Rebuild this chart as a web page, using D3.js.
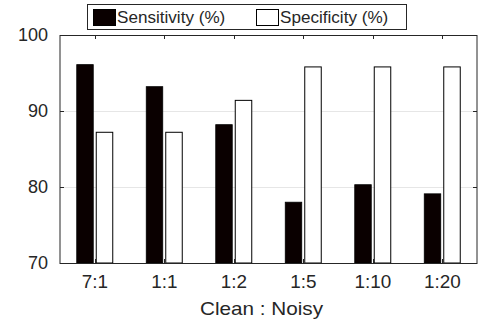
<!DOCTYPE html>
<html>
<head>
<meta charset="utf-8">
<script src="https://cdn.jsdelivr.net/npm/d3@7"></script>
<style>
  body { margin: 0; background: #fff; }
  text { font-family: "Liberation Sans", Arial, sans-serif; fill: #262626; }
</style>
</head>
<body>
<script>
// data
var ratios = ["7:1", "1:1", "1:2", "1:5", "1:10", "1:20"];
var sensitivity = [96.1, 93.2, 88.2, 78.0, 80.3, 79.1];
var specificity = [87.2, 87.2, 91.4, 95.8, 95.8, 95.8];
var yTicks = [70, 80, 90, 100];
var seriesNames = ["Sensitivity (%)", "Specificity (%)"];

var W = 479, H = 323;
var mLeft = 60, mRight = 477, mTop = 35, mBottom = 263;

var svg = d3.select("body").append("svg").attr("width", W).attr("height", H);

var x = d3.scaleBand().domain(ratios).range([mLeft, mRight]);
var y = d3.scaleLinear().domain([70, 100]).range([mBottom, mTop]);
var barW = 16.5, gap = 3;

// grid
svg.append("g").selectAll("line").data([80, 90]).enter().append("line")
  .attr("x1", mLeft).attr("x2", mRight)
  .attr("y1", function(d) { return y(d) + 0.5; }).attr("y2", function(d) { return y(d) + 0.5; })
  .attr("stroke", "#e6e6e6").attr("stroke-width", 1);

// bars
var g = svg.append("g");
ratios.forEach(function(r, i) {
  var c = x(r) + x.bandwidth() / 2;
  g.append("rect")
    .attr("x", c - gap / 2 - barW).attr("width", barW)
    .attr("y", y(sensitivity[i])).attr("height", y(70) - y(sensitivity[i]))
    .attr("fill", "#0a0000").attr("stroke", "#000").attr("stroke-width", 0.8);
  g.append("rect")
    .attr("x", c + gap / 2).attr("width", barW)
    .attr("y", y(specificity[i])).attr("height", y(70) - y(specificity[i]))
    .attr("fill", "#fff").attr("stroke", "#000").attr("stroke-width", 1);
});

// box axes
var axc = "#262626";
svg.append("rect").attr("x", mLeft).attr("y", mTop + 0.5).attr("width", mRight - mLeft).attr("height", mBottom - mTop)
  .attr("fill", "none").attr("stroke", axc).attr("stroke-width", 1);

var xAx = d3.axisBottom(x).tickSize(0).tickPadding(12);
var gx = svg.append("g").attr("transform", "translate(0," + mBottom + ")").call(xAx);
gx.select(".domain").remove();
gx.selectAll("text").attr("font-size", 18).attr("fill", axc)
  .attr("transform", "scale(1.05,1)");

var yAx = d3.axisLeft(y).tickValues(yTicks).tickSize(0).tickPadding(12);
var gy = svg.append("g").attr("transform", "translate(" + mLeft + ",0)").call(yAx);
gy.select(".domain").remove();
gy.selectAll("text").attr("font-size", 18).attr("fill", axc);

// inward tick marks
var tk = svg.append("g").attr("stroke", axc).attr("stroke-width", 1);
ratios.forEach(function(r) {
  var c = Math.round(x(r) + x.bandwidth() / 2) + 0.5;
  tk.append("line").attr("x1", c).attr("x2", c).attr("y1", mBottom).attr("y2", mBottom - 4);
  tk.append("line").attr("x1", c).attr("x2", c).attr("y1", mTop).attr("y2", mTop + 4);
});
yTicks.slice(1, 3).forEach(function(v) {
  tk.append("line").attr("x1", mLeft).attr("x2", mLeft + 4).attr("y1", y(v) + 0.5).attr("y2", y(v) + 0.5);
  tk.append("line").attr("x1", mRight).attr("x2", mRight - 4).attr("y1", y(v) + 0.5).attr("y2", y(v) + 0.5);
});

// x label
svg.append("text").attr("transform", "translate(" + ((mLeft + mRight) / 2 - 7) + ",315) scale(1.15,1)")
  .attr("text-anchor", "middle").attr("font-size", 18).text("Clean : Noisy");

// legend
var lg = svg.append("g");
lg.append("rect").attr("x", 87.5).attr("y", 4.5).attr("width", 319).attr("height", 25)
  .attr("fill", "#fff").attr("stroke", axc);
var legX = [93, 256], legFill = ["#0a0000", "#fff"];
seriesNames.forEach(function(n, i) {
  lg.append("rect").attr("x", legX[i] + 0.5).attr("y", 9.5).attr("width", 22).attr("height", 16)
    .attr("fill", legFill[i]).attr("stroke", "#000");
  lg.append("text").attr("transform", "translate(" + (legX[i] + 24) + ",23) scale(1.07,1)")
    .attr("font-size", 16).text(n);
});
</script>
</body>
</html>
